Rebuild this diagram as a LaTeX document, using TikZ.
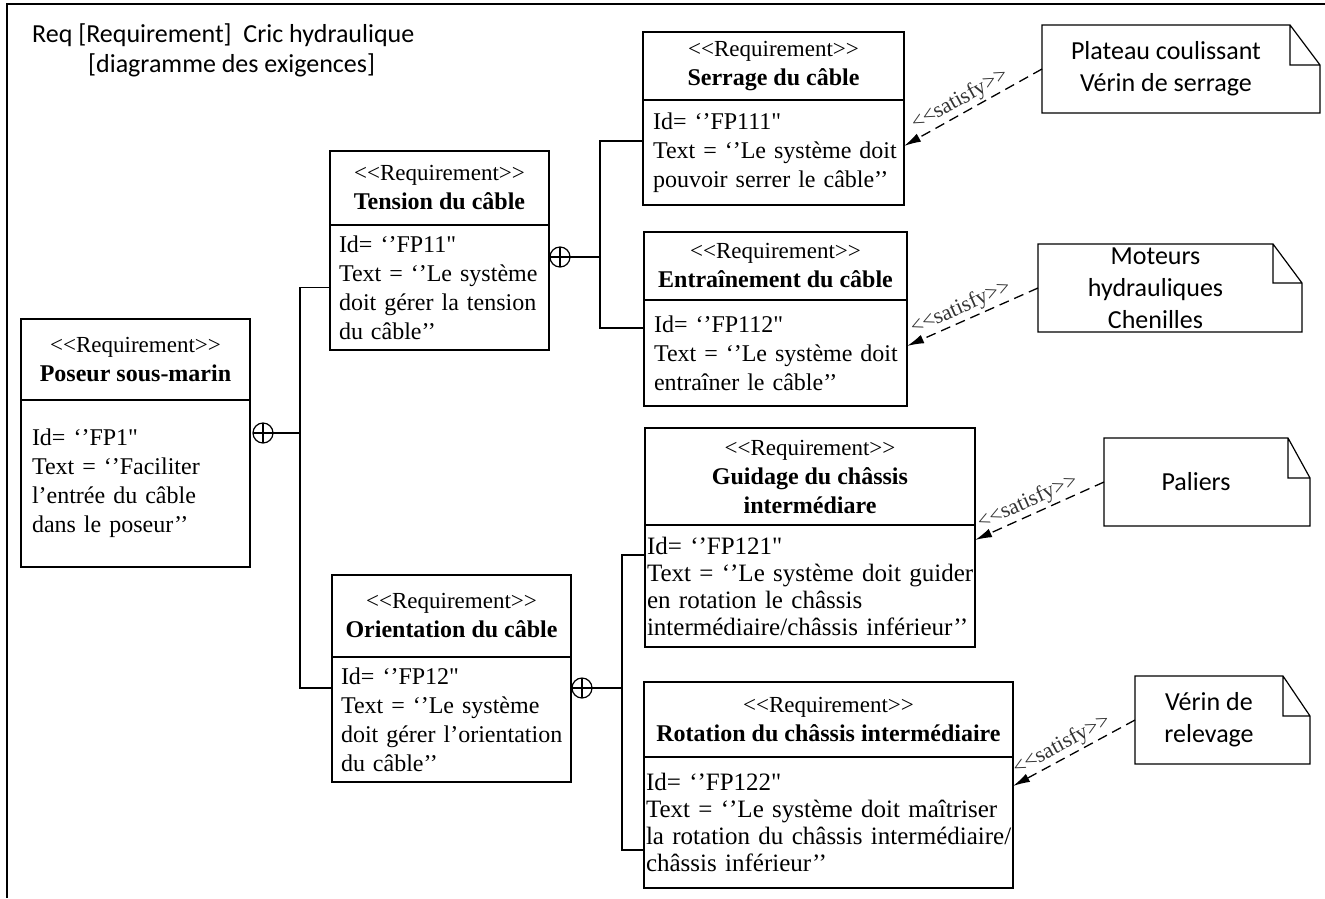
\documentclass[tikz,border=0pt]{standalone}
\usepackage{fontspec}
\setmainfont{Liberation Serif}
\newfontfamily\rawserif{Liberation Serif}
\newfontfamily\calibri{Carlito}
\usetikzlibrary{positioning,arrows.meta}

\newcommand{\stereo}[1]{<{}<#1>{}>}
\newcommand{\qq}{{\rawserif"}}

\tikzset{
  reqhead/.style={draw, line width=1.2pt, outer sep=0pt, inner sep=0pt, align=center, anchor=north west, font=\fontsize{23}{29}\selectfont},
  reqbody/.style={draw, line width=1.2pt, outer sep=0pt, inner ysep=0pt, align=left, font=\fontsize{24}{29}\selectfont},
  contain/.style={circle, draw, line width=1.2pt, outer sep=0pt, inner sep=0pt, minimum size=20pt,
    path picture={\draw[line width=1.2pt] (path picture bounding box.north) -- (path picture bounding box.south)
      (path picture bounding box.west) -- (path picture bounding box.east);}},
  link/.style={line width=1.6pt},
  note/.style={inner sep=0pt, outer sep=0pt, minimum height=88pt, align=center, font=\calibri\fontsize{26}{32}\selectfont},
  satisfy/.style={line width=1.3pt, dash pattern=on 10pt off 6pt, -{Latex[length=17pt,width=9pt]}},
  satlabel/.style={sloped, above=1pt, inner sep=1pt, text=black!80, font=\fontsize{22}{22}\selectfont}
}

\begin{document}
\begin{tikzpicture}[x=1pt,y=-1pt]
\useasboundingbox (0,0) rectangle (1325,898);

% frame
\draw[line width=1.6pt] (1325,4) -- (7,4) -- (7,898);
\node[anchor=north west, inner sep=0pt, align=left, font=\calibri\fontsize{26}{30}\selectfont] (title) at (32,24)
  {Req [Requirement]\ \ Cric hydraulique\\\hspace*{56pt}[diagramme des exigences]};

% requirements
\node[reqhead, minimum width=229pt, minimum height=81pt] (poseur-h) at (21,319)
  {\stereo{Requirement}\\{\fontsize{24}{29}\selectfont\bfseries Poseur sous-marin}};
\node[reqbody, below=0pt of poseur-h, inner xsep=11pt, text width=207pt, minimum height=167pt] (poseur-b)
  {\mbox{Id= ‘’FP1\qq}\\\mbox{Text = ‘’Faciliter}\\\mbox{l’entrée du câble}\\\mbox{dans le poseur’’}};

\node[reqhead, minimum width=219pt, minimum height=74pt] (tension-h) at (330,151)
  {\stereo{Requirement}\\{\fontsize{24}{29}\selectfont\bfseries Tension du câble}};
\node[reqbody, below=0pt of tension-h, inner xsep=9pt, text width=201pt, minimum height=125pt] (tension-b)
  {\mbox{Id= ‘’FP11\qq}\\\mbox{Text = ‘’Le système}\\\mbox{doit gérer la tension}\\\mbox{du câble’’}};

\node[reqhead, minimum width=239pt, minimum height=82pt] (orient-h) at (332,575)
  {\stereo{Requirement}\\{\fontsize{24}{29}\selectfont\bfseries Orientation du câble}};
\node[reqbody, below=0pt of orient-h, inner xsep=9pt, text width=221pt, minimum height=125pt] (orient-b)
  {\mbox{Id= ‘’FP12\qq}\\\mbox{Text = ‘’Le système}\\\mbox{doit gérer l’orientation}\\\mbox{du câble’’}};

\node[reqhead, minimum width=261pt, minimum height=68pt] (serrage-h) at (643,32)
  {\stereo{Requirement}\\{\fontsize{24}{29}\selectfont\bfseries Serrage du câble}};
\node[reqbody, below=0pt of serrage-h, inner xsep=10pt, text width=241pt, minimum height=105pt] (serrage-b)
  {\mbox{Id= ‘’FP111\qq}\\\mbox{Text = ‘’Le système doit}\\\mbox{pouvoir serrer le câble’’}};

\node[reqhead, minimum width=263pt, minimum height=68pt] (entrain-h) at (644,232)
  {\stereo{Requirement}\\{\fontsize{24}{29}\selectfont\bfseries Entraînement du câble}};
\node[reqbody, below=0pt of entrain-h, inner xsep=10pt, text width=243pt, minimum height=106pt] (entrain-b)
  {\mbox{Id= ‘’FP112\qq}\\\mbox{Text = ‘’Le système doit}\\\mbox{entraîner le câble’’}};

\node[reqhead, minimum width=330pt, minimum height=97pt] (guidage-h) at (645,428)
  {\stereo{Requirement}\\{\fontsize{24}{29}\selectfont\bfseries Guidage du châssis}\\{\fontsize{24}{29}\selectfont\bfseries intermédiare}};
\node[reqbody, below=0pt of guidage-h, inner xsep=2pt, text width=326pt, minimum height=122pt, font=\fontsize{25}{27}\selectfont] (guidage-b)
  {\mbox{Id= ‘’FP121\qq}\\\mbox{Text = ‘’Le système doit guider}\\\mbox{en rotation le châssis}\\\mbox{intermédiaire/châssis inférieur’’}};

\node[reqhead, minimum width=369pt, minimum height=75pt] (rotation-h) at (644,682)
  {\stereo{Requirement}\\{\fontsize{24}{29}\selectfont\bfseries Rotation du châssis intermédiaire}};
\node[reqbody, below=0pt of rotation-h, inner xsep=2pt, text width=365pt, minimum height=131pt, font=\fontsize{25}{27}\selectfont] (rotation-b)
  {\mbox{Id= ‘’FP122\qq}\\\mbox{Text = ‘’Le système doit maîtriser}\\\mbox{la rotation du châssis intermédiaire/}\\\mbox{châssis inférieur’’}};

% containment
\node[contain] (poseur-plus) at (263,433) {};
\node[contain] (tension-plus) at (560,257) {};
\node[contain] (orient-plus) at (582,688) {};

\draw[link] (poseur-plus.east) -- ++(27,0) coordinate (bus1);
\draw[link] (tension-b.west) -| (bus1) |- ([yshift=31.5pt]orient-b.west);
\draw[link] (tension-plus.east) -- ++(30,0) coordinate (bus2);
\draw[link] ([yshift=11.5pt]serrage-b.west) -| (bus2) |- ([yshift=25pt]entrain-b.west);
\draw[link] (orient-plus.east) -- ++(30,0) coordinate (bus3);
\draw[link] ([yshift=31pt]guidage-b.west) -| (bus3) |- ([yshift=-27.5pt]rotation-b.west);

% notes
\node[note, minimum width=248pt] (plateau) at (1166,69) {Plateau coulissant\\Vérin de serrage};
\node[note, minimum width=235pt] (moteurs) at (1155.5,288) {Moteurs\\hydrauliques\\Chenilles};
\node[note, minimum width=184pt] (paliers) at (1196,482) {Paliers};
\node[note, minimum width=148pt] (releve) at (1209,720) {Vérin de\\relevage};
\foreach \n/\fx/\fy in {plateau/30/40, moteurs/29/39, paliers/22/40, releve/27/40}
  \draw[line width=1.2pt] (\n.north west) -- (\n.north east) -- ([xshift=\fx pt,yshift=-\fy pt]\n.north east)
    -- ([xshift=\fx pt]\n.south east) -- (\n.south west) -- cycle
    (\n.north east) |- ([xshift=\fx pt,yshift=-\fy pt]\n.north east);

% satisfy
\draw[satisfy] (plateau.west) -- ([yshift=6.5pt]serrage-b.east) node[satlabel, pos=0.55] {\stereo{satisfy}};
\draw[satisfy] (moteurs.west) -- ([yshift=7pt]entrain-b.east) node[satlabel, pos=0.55] {\stereo{satisfy}};
\draw[satisfy] (paliers.west) -- ([yshift=46pt]guidage-b.east) node[satlabel, pos=0.55] {\stereo{satisfy}};
\draw[satisfy] (releve.west) -- ([yshift=36.5pt]rotation-b.east) node[satlabel, pos=0.55] {\stereo{satisfy}};
\end{tikzpicture}
\end{document}
